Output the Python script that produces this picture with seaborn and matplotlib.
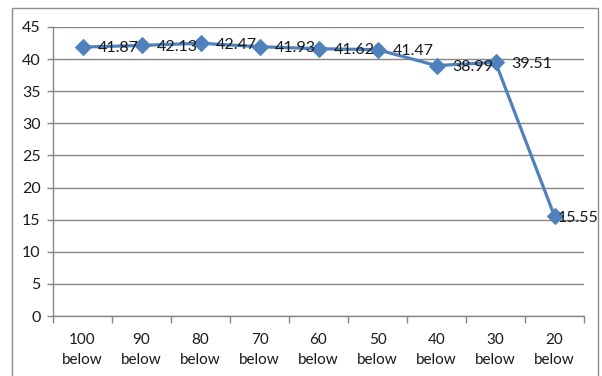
import matplotlib
matplotlib.use("Agg")
import matplotlib.pyplot as plt
import seaborn as sns
import pandas as pd
from matplotlib.patches import Rectangle
from matplotlib.ticker import FixedLocator

categories = ["100\nbelow", "90\nbelow", "80\nbelow", "70\nbelow", "60\nbelow",
              "50\nbelow", "40\nbelow", "30\nbelow", "20\nbelow"]
values = [41.87, 42.13, 42.47, 41.93, 41.62, 41.47, 38.99, 39.51, 15.55]
yticks = [0, 5, 10, 15, 20, 25, 30, 35, 40, 45]

sns.set_theme(style="white")
plt.rcParams['font.family'] = ['Lato', 'DejaVu Sans']

df = pd.DataFrame({"pos": list(range(len(categories))), "value": values})

fig = plt.figure(figsize=(6.02, 3.76), dpi=100)
ax = fig.add_axes([53/602, 1-316/376, (584-53)/602, (316-27)/376])

line_color = "#4F81BD"
sns.lineplot(data=df, x="pos", y="value", ax=ax, color=line_color, linewidth=2.3,
             marker="D", markersize=8.5, markeredgecolor=line_color, markerfacecolor=line_color)

text_color = "#1a1a1a"
for i, v in enumerate(values):
    dx = 11 if i < len(values) - 1 else 2
    ax.annotate(f"{v:.2f}", (i, v), xytext=(dx, -1), textcoords="offset points",
                ha="left", va="center", fontsize=11.5, color=text_color)

ax.set_xlim(-0.5, len(categories) - 0.5)
ax.set_ylim(0, 45)
ax.set_yticks(yticks)
ax.set_yticklabels([str(t) for t in yticks], fontsize=11.5, color=text_color)
ax.set_xticks(range(len(categories)))
ax.set_xticklabels(categories, fontsize=11, color=text_color, linespacing=1.55)
ax.xaxis.set_minor_locator(FixedLocator([i - 0.5 for i in range(len(categories) + 1)]))
ax.tick_params(axis="x", which="major", length=0, pad=12)
ax.tick_params(axis="x", which="minor", length=5, color="#868686", width=1, direction="out", bottom=True)
ax.tick_params(axis="y", which="major", length=4, color="#868686", width=1, direction="out", left=True, pad=5)

ax.grid(axis="y", color="#868686", linewidth=1)
ax.set_axisbelow(True)
ax.set_xlabel("")
ax.set_ylabel("")
for s in ["top", "right"]:
    ax.spines[s].set_visible(False)
for s in ["left", "bottom"]:
    ax.spines[s].set_color("#868686")
    ax.spines[s].set_linewidth(1)

fig.patches.append(Rectangle((12/602, -0.05), (598-12)/602, 1.05 - 8/376,
                             transform=fig.transFigure, fill=False,
                             edgecolor="#8c8c8c", linewidth=1))

fig.savefig("out.png", dpi=100)
